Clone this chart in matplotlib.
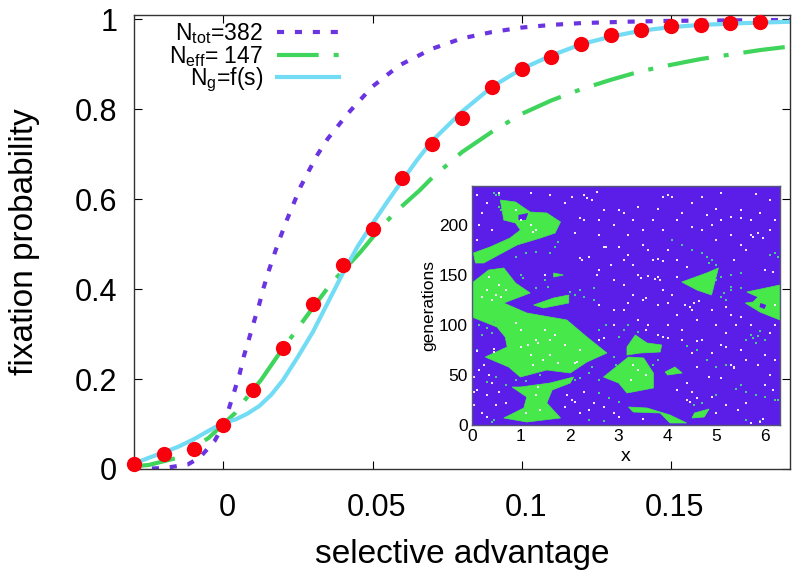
import matplotlib
matplotlib.use('Agg')
import matplotlib.pyplot as plt
from matplotlib.transforms import ScaledTranslation

plt.rcParams['font.family'] = ['Liberation Sans', 'DejaVu Sans']
plt.rcParams['mathtext.default'] = 'regular'

PURPLE = '#6a35e0'
GREEN = '#3fd45c'
BLUE = '#72dcf4'
RED = '#f8000c'
BG = '#5a1ee8'
PATCH = '#46e84a'

# main curves
s_tot = [-0.03, -0.02, -0.012, -0.008, -0.003, 0.0, 0.002, 0.0037, 0.0054, 0.0068, 0.0085, 0.0102, 0.0119, 0.0135,
         0.0152, 0.0171, 0.0191, 0.0212, 0.0235, 0.0258, 0.0286, 0.0316, 0.035, 0.042, 0.05, 0.059, 0.07, 0.08,
         0.09, 0.1, 0.11, 0.12, 0.135, 0.15, 0.17, 0.19]
p_tot = [0.0, 0.002, 0.01, 0.025, 0.062, 0.098, 0.138, 0.174, 0.211, 0.25, 0.288, 0.327, 0.364, 0.404,
         0.441, 0.479, 0.516, 0.553, 0.59, 0.627, 0.663, 0.70, 0.735, 0.793, 0.851, 0.898, 0.935, 0.958,
         0.972, 0.982, 0.988, 0.992, 0.995, 0.997, 0.998, 0.999]

s_eff = [-0.03, -0.025, -0.016, -0.005, 0.004, 0.0076, 0.0126, 0.018, 0.0279, 0.0361, 0.0456, 0.0534, 0.0584,
         0.0658, 0.07, 0.08, 0.09, 0.1, 0.11, 0.12, 0.13, 0.14, 0.15, 0.16, 0.17, 0.18, 0.19]
p_eff = [0.006, 0.009, 0.024, 0.069, 0.125, 0.157, 0.198, 0.25, 0.34, 0.413, 0.48, 0.542, 0.576,
         0.62, 0.648, 0.705, 0.75, 0.79, 0.82, 0.845, 0.866, 0.885, 0.899, 0.912, 0.922, 0.932, 0.94]

s_g = [-0.03, -0.025, -0.02, -0.015, -0.01, -0.005, 0.0, 0.004, 0.008, 0.012, 0.016, 0.02, 0.025, 0.03, 0.035,
       0.04, 0.045, 0.05, 0.055, 0.06, 0.065, 0.07, 0.08, 0.09, 0.1, 0.11, 0.12, 0.13, 0.14, 0.15, 0.16, 0.175, 0.19]
p_g = [0.012, 0.025, 0.037, 0.05, 0.066, 0.085, 0.103, 0.11, 0.123, 0.14, 0.165, 0.198, 0.25, 0.305, 0.37,
       0.435, 0.495, 0.546, 0.595, 0.642, 0.688, 0.73, 0.795, 0.85, 0.89, 0.92, 0.945, 0.962, 0.975, 0.983, 0.988, 0.992, 0.995]

s_sim = [-0.03, -0.02, -0.01, 0.0, 0.01, 0.02, 0.03, 0.04, 0.05, 0.06, 0.07,
         0.08, 0.09, 0.1, 0.11, 0.12, 0.13, 0.14, 0.15, 0.16, 0.17, 0.18]
p_sim = [0.012, 0.033, 0.045, 0.098, 0.175, 0.27, 0.367, 0.453, 0.534, 0.647, 0.722,
         0.78, 0.85, 0.89, 0.917, 0.945, 0.965, 0.977, 0.985, 0.988, 0.992, 0.994]

# inset: green regions (x, generation)
regions = [
    [(0.58, 225), (0.89, 223), (1.19, 213), (1.53, 212), (1.81, 203), (1.70, 192), (1.40, 187), (0.92, 180),
     (0.24, 162), (0.07, 162), (0.03, 172), (0.37, 178), (0.78, 187), (0.99, 195), (0.89, 202), (0.65, 205)],
    [(0, 142), (0.34, 155), (0.65, 157), (0.89, 142), (1.19, 132), (0.65, 122), (1.12, 112), (1.94, 105),
     (2.35, 88), (2.76, 72), (2.35, 63), (2.01, 52), (1.53, 55), (0.99, 48), (0.75, 58), (0.27, 68),
     (0.72, 78), (0.68, 88), (0.51, 98), (0, 108)],
    [(2.08, 48), (1.6, 42), (0.99, 38), (0.82, 38), (1.12, 28), (1.06, 17), (0.65, 7), (1.12, 3),
     (1.81, 7), (1.53, 22), (1.64, 35), (2.01, 42)],
    [(1.26, 120), (1.67, 127), (1.98, 130), (1.98, 122), (1.46, 117)],
    [(2.69, 48), (3.2, 68), (3.51, 67), (3.71, 52), (3.71, 37), (3.17, 32), (3.0, 42)],
    [(3.17, 78), (3.34, 90), (3.58, 82), (3.88, 80), (3.85, 73), (3.44, 72), (3.17, 70)],
    [(3.2, 18), (3.58, 17), (4.05, 10), (4.39, 2), (4.05, 2), (3.85, 12), (3.3, 13)],
    [(4.29, 143), (4.8, 152), (5.04, 157), (4.9, 130), (4.6, 135)],
    [(5.62, 133), (6.3, 140), (6.3, 105), (5.89, 113), (5.59, 122), (5.75, 123), (5.85, 128)],
    [(1.67, 152), (1.87, 150), (1.67, 148)],
    [(4.55, 12), (4.85, 16), (4.75, 8), (4.5, 7)],
    [(3.95, 53), (4.15, 58), (4.3, 52), (4.0, 50)],
]
holes = [
    [(0.95, 210), (1.15, 212), (1.1, 205), (0.95, 205)],
    [(5.9, 122), (6.02, 120), (5.98, 116), (5.88, 118)],
]

green_specks = [
    (0.45, 232), (0.5, 230), (0.55, 230), (0.6, 215), (0.55, 218), (1.6, 172), (1.3, 173), (1.1, 172), (0.9, 168),
    (1.7, 178), (1.75, 183), (1.0, 150), (1.05, 147), (1.5, 145), (1.55, 138), (1.3, 137), (2.2, 135), (2.5, 137),
    (2.3, 128), (2.5, 125), (2.0, 133), (2.1, 130), (0.4, 92), (0.2, 90), (0.1, 75), (0.5, 48), (0.3, 43), (0.7, 40),
    (2.2, 47), (2.6, 45), (2.4, 52), (2.45, 58), (2.9, 68), (2.95, 60), (2.6, 32), (2.8, 27), (3.0, 23), (3.0, 88),
    (3.1, 95), (3.4, 93), (3.8, 65), (3.7, 60), (4.6, 75), (4.4, 79), (5.0, 58), (5.2, 60), (4.8, 65), (5.35, 58),
    (5.4, 36), (5.6, 33), (5.8, 30), (5.5, 40), (6.0, 28), (6.2, 25), (5.7, 90), (5.9, 94), (5.6, 85), (5.8, 82),
    (6.0, 85), (5.75, 87), (5.85, 89), (4.5, 175), (4.7, 172), (4.9, 165), (5.0, 160), (5.3, 150), (5.5, 152),
    (5.3, 135), (5.5, 137), (5.2, 125), (6.1, 170), (6.25, 168), (6.2, 172), (4.1, 185), (4.3, 180), (5.0, 30),
    (4.7, 22), (4.55, 20), (5.6, 5), (5.9, 4), (0.45, 5), (0.4, 3), (2.4, 5), (2.7, 4), (6.25, 25), (5.3, 138),
    (5.1, 128), (5.15, 132), (4.8, 168), (4.85, 162), (5.1, 148), (5.0, 145), (0.15, 100), (0.3, 97), (0.45, 103),
    (2.6, 95), (2.75, 100), (3.2, 100), (0.9, 45), (1.1, 44), (1.4, 50), (2.1, 45),
]

white_specks = [
    (0.1, 230), (0.55, 232), (1.2, 232), (1.6, 230), (2.05, 228), (2.3, 230), (2.35, 227), (2.45, 225),
    (2.55, 233), (3.9, 228), (4.0, 230), (4.1, 228), (5.1, 232), (5.8, 231), (6.1, 225), (3.0, 215),
    (3.1, 212), (3.4, 218), (3.8, 216), (4.3, 212), (5.0, 216), (5.5, 215), (5.1, 205), (5.3, 208),
    (5.5, 207), (5.7, 205), (1.0, 205), (2.3, 205), (2.2, 207), (3.7, 205), (4.2, 205), (4.5, 198),
    (4.7, 195), (4.9, 200), (5.7, 190), (5.75, 188), (5.85, 192), (5.95, 187), (2.1, 192), (2.6, 190),
    (3.2, 190), (3.9, 195), (2.75, 178), (2.7, 178), (2.2, 167), (2.25, 165), (2.4, 168), (3.0, 178),
    (3.1, 165), (3.2, 170), (3.7, 165), (3.8, 166), (3.9, 164), (2.85, 160), (3.3, 160), (6.0, 155),
    (6.15, 153), (4.2, 148), (3.4, 150), (3.45, 147), (3.6, 149), (3.75, 146), (3.8, 148), (3.85, 145),
    (2.6, 120), (3.3, 130), (3.5, 125), (3.55, 127), (2.9, 115), (3.1, 115), (3.4, 105), (3.8, 120),
    (4.35, 120), (4.45, 118), (4.55, 122), (4.65, 124), (4.5, 115), (4.2, 110), (4.9, 115), (5.2, 118),
    (5.5, 108), (4.0, 100), (4.3, 95), (4.6, 105), (5.0, 100), (5.2, 92), (3.8, 90), (3.9, 88), (4.0, 87),
    (4.7, 85), (4.6, 84), (5.1, 80), (5.2, 78), (5.5, 75), (6.0, 70), (6.2, 65), (5.35, 57), (5.3, 60),
    (4.6, 58), (4.85, 48), (5.1, 47), (6.1, 50), (4.4, 25), (4.45, 23), (4.6, 27), (5.9, 3), (5.7, 2),
    (5.95, 6), (2.1, 23), (2.05, 25), (2.4, 15), (2.9, 12), (0.1, 35), (0.05, 33), (0.3, 30), (0.5, 20),
    (0.2, 12), (0.35, 50), (0.45, 73), (0.45, 76), (0.1, 74), (2.6, 85), (2.7, 87), (1.5, 150), (1.15, 80),
    (0.3, 222), (0.2, 212), (0.15, 200), (0.4, 195), (0.1, 185), (1.9, 222), (2.7, 215), (2.6, 205), (2.9, 200),
    (3.3, 205), (3.5, 195), (4.7, 228), (4.5, 222), (4.8, 210), (5.9, 212), (6.2, 205), (6.1, 195), (5.3, 190),
    (5.0, 185), (3.5, 180), (3.6, 175), (4.0, 175), (4.2, 165), (4.4, 158), (2.6, 155), (2.9, 145), (2.55, 150),
    (3.1, 140), (3.9, 135), (4.1, 130), (4.0, 122), (3.2, 122), (2.9, 100), (3.6, 100), (3.55, 95), (4.3, 85),
    (4.5, 72), (4.9, 72), (5.6, 65), (5.85, 60), (6.0, 40), (6.15, 35), (5.6, 22), (5.2, 20), (5.45, 15), (5.0, 12),
    (4.9, 28), (4.2, 35), (4.4, 42), (4.5, 33), (2.5, 22), (2.3, 33), (2.2, 12), (2.7, 18), (3.0, 8), (3.5, 6),
    (0.15, 55), (0.25, 60), (0.05, 48), (0.4, 42), (0.55, 33), (0.7, 22), (0.05, 20), (0.3, 8), (1.9, 18), (1.95, 30),
    (6.2, 120), (6.2, 100), (6.1, 92), (5.7, 100), (5.4, 100), (5.3, 110), (5.35, 165), (5.6, 175), (5.5, 180),
    # inside the green patches
    (0.5, 130), (0.6, 128), (0.4, 125), (0.7, 135), (0.3, 135), (0.2, 128), (0.55, 140), (0.35, 148), (1.3, 85),
    (1.35, 82), (1.5, 95), (1.6, 70), (1.75, 62), (2.1, 62), (2.15, 63), (1.0, 78), (1.2, 70), (1.9, 80), (2.2, 75),
    (1.0, 95), (0.9, 102), (1.6, 85), (1.7, 90), (1.25, 60), (1.45, 65), (0.9, 215), (1.25, 193), (1.3, 195),
    (1.2, 200), (1.35, 38), (1.3, 30), (1.1, 12), (1.4, 15), (3.3, 60), (3.25, 45), (3.55, 50), (3.4, 55), (5.35, 58),
]

fig, ax = plt.subplots(figsize=(7.93, 5.72), dpi=100)
fig.subplots_adjust(left=134 / 793, right=790 / 793, top=1 - 15 / 572, bottom=1 - 469 / 572)

ax.plot(s_tot, p_tot, color=PURPLE, lw=3, dashes=(1.7, 2.6), label=r'N$_{tot}$=382')
ax.plot(s_eff, p_eff, color=GREEN, lw=3, dashes=(10, 3.6, 1.2, 3.6), label=r'N$_{eff}$= 147')
ax.plot(s_g, p_g, color=BLUE, lw=3, label=r'N$_g$=f(s)')
ax.plot(s_sim, p_sim, 'o', color=RED, ms=11, mew=0, clip_on=False, zorder=5)

ax.set_xlim(-0.03, 0.19)
ax.set_ylim(0, 1.01)
ax.set_xticks([0, 0.05, 0.1, 0.15])
ax.set_xticklabels(['0', '0.05', '0.1', '0.15'])
ax.set_yticks([0, 0.2, 0.4, 0.6, 0.8, 1])
ax.set_yticklabels(['0', '0.2', '0.4', '0.6', '0.8', '1'])
ax.tick_params(direction='in', top=True, right=True, length=6, width=0.8, labelsize=22)
ax.tick_params(axis='x', pad=17)
ax.tick_params(axis='y', pad=12)
# labels sit a little right of their ticks in the original
shift = ScaledTranslation(4 / 100, 0, fig.dpi_scale_trans)
for lab in ax.get_xticklabels():
    lab.set_transform(lab.get_transform() + shift)
ax.set_xlabel('selective advantage', fontsize=24, labelpad=12)
ax.set_ylabel('fixation probability', fontsize=24, labelpad=25)
for sp in ax.spines.values():
    sp.set_linewidth(1.0)
    sp.set_color('#333333')

ax.legend(loc='upper left', bbox_to_anchor=(0.029, 1.021), frameon=False, markerfirst=False,
          fontsize=16.5, labelspacing=-0.12, handlelength=2.7, handletextpad=0.6, borderpad=0.2)

# inset
axin = fig.add_axes([472 / 793, 1 - 425 / 572, 308 / 793, 239 / 572], zorder=10)
axin.set_facecolor(BG)
for reg in regions:
    axin.fill([p[0] for p in reg], [p[1] for p in reg], color=PATCH, lw=0.5)
for reg in holes:
    axin.fill([p[0] for p in reg], [p[1] for p in reg], color=BG, lw=0)
axin.scatter([p[0] for p in green_specks], [p[1] for p in green_specks], s=3.5, marker='s', color='#4cc88c', lw=0)
axin.scatter([p[0] for p in white_specks], [p[1] for p in white_specks], s=3, marker='s', color='#f2e6fb', lw=0)
axin.set_xlim(0, 6.3)
axin.set_ylim(0, 239)
axin.set_xticks(range(7))
axin.set_yticks([0, 50, 100, 150, 200])
axin.tick_params(length=0, labelsize=12.5, pad=3)
axin.set_xlabel('x', fontsize=14, labelpad=3)
axin.set_ylabel('generations', fontsize=12.5, labelpad=2)
for sp in axin.spines.values():
    sp.set_color('#555577')
    sp.set_linewidth(1.0)

fig.savefig('out.png', dpi=100, facecolor='white')
